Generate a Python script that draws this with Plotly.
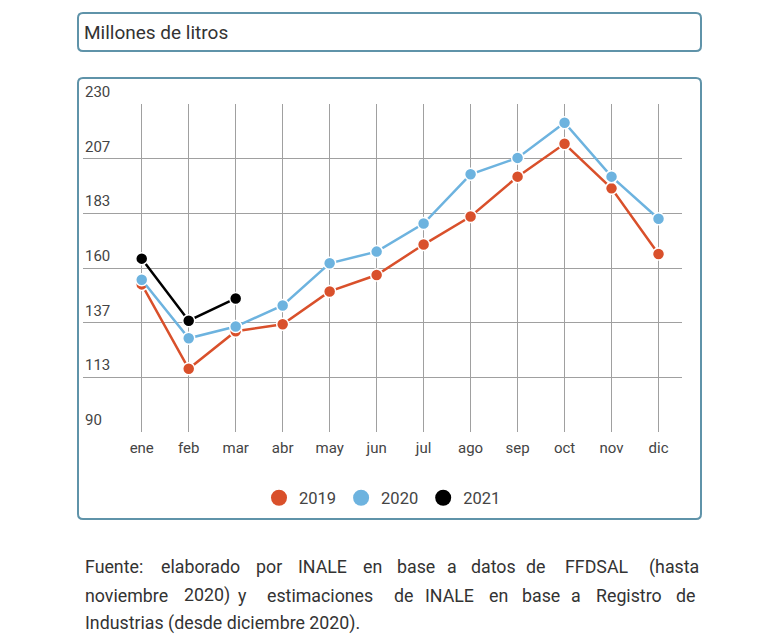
import plotly.graph_objects as go

months = ["ene", "feb", "mar", "abr", "may", "jun", "jul", "ago", "sep", "oct", "nov", "dic"]
v2019 = [153, 117, 133, 136, 150, 157, 170, 182, 199, 213, 194, 166]
v2020 = [155, 130, 135, 144, 162, 167, 179, 200, 207, 222, 199, 181]
v2021 = [164, 137.5, 147]
series_names = ["2019", "2020", "2021"]
series_colors = ["#d9502b", "#6db3df", "#000000"]
ytick_vals = [90, 113.333, 136.667, 160, 183.333, 206.667, 230]
ytick_text = ["90", "113", "137", "160", "183", "207", "230"]
title_text = "Millones de litros"
footer_line1 = ["Fuente:", "elaborado", "por", "INALE", "en", "base", "a", "datos", "de", "FFDSAL", "(hasta"]
footer_line2 = ["noviembre", "2020)", "y", "estimaciones", "de", "INALE", "en", "base", "a", "Registro", "de"]
footer_line3 = "Industrias (desde diciembre 2020)."

# layout geometry (pixels in the screenshot; page body adds an 8px offset)
OFF = 8
W, H = 782, 641
L, R, T, B = 83, 682, 104, 432
PW, PH = R - L, B - T


def px(x):
    return (x - L) / PW


def py(y):
    return (B - y) / PH


def rrect(x0, y0, x1, y1, r=5):
    rx, ry = r / PW, r / PH
    X0, X1 = px(x0), px(x1)
    Y0, Y1 = py(y0), py(y1)
    return (f"M {X0+rx},{Y0} L {X1-rx},{Y0} Q {X1},{Y0} {X1},{Y0-ry} "
            f"L {X1},{Y1+ry} Q {X1},{Y1} {X1-rx},{Y1} L {X0+rx},{Y1} "
            f"Q {X0},{Y1} {X0},{Y1+ry} L {X0},{Y0-ry} Q {X0},{Y0} {X0+rx},{Y0} Z")


fig = go.Figure()
xs = list(range(len(months)))
data = [v2019, v2020, v2021]
for name, vals, col in zip(series_names, data, series_colors):
    fig.add_trace(go.Scatter(
        x=xs[:len(vals)], y=vals, mode="lines+markers", name=name,
        line=dict(color=col, width=2.5),
        marker=dict(size=12, color=col, line=dict(color="white", width=1.5)),
        showlegend=False, hoverinfo="skip"))
for name, col in zip(series_names, series_colors):
    fig.add_trace(go.Scatter(
        x=[None], y=[None], mode="markers", name=name,
        marker=dict(size=20, color=col)))

border = "#5f93a9"
shapes = [
    dict(type="path", xref="paper", yref="paper", path=rrect(78, 13, 701, 51),
         line=dict(color=border, width=2), fillcolor="rgba(0,0,0,0)", layer="below"),
    dict(type="path", xref="paper", yref="paper", path=rrect(78, 78, 701, 519),
         line=dict(color=border, width=2), fillcolor="rgba(0,0,0,0)", layer="below"),
]

ann = [dict(text=title_text, xref="paper", yref="paper", x=px(82), y=py(32),
            xanchor="left", yanchor="middle", showarrow=False,
            font=dict(size=19, color="#333333"))]

for v, t in zip(ytick_vals, ytick_text):
    ann.append(dict(text=t, xref="paper", yref="y", x=0, y=v, xanchor="left",
                    yanchor="bottom", yshift=1, showarrow=False,
                    font=dict(size=15, color="#444444")))

line1_x = [83, 159, 254, 296, 360.5, 395, 445, 469, 524, 562.5, 646.5]
line2_x = [83, 181.5, 235.5, 264.5, 392, 423.5, 486.5, 519.5, 568.5, 593.5, 673.5]
for words, xpos, yc in [(footer_line1, line1_x, 566.5), (footer_line2, line2_x, 595)]:
    for w, xx in zip(words, xpos):
        ann.append(dict(text=w, xref="paper", yref="paper", x=px(xx), y=py(yc),
                        xanchor="left", yanchor="middle", showarrow=False,
                        font=dict(size=17.8, color="#333333")))
ann.append(dict(text=footer_line3, xref="paper", yref="paper", x=px(83), y=py(622.5),
                xanchor="left", yanchor="middle", showarrow=False,
                font=dict(size=17.8, color="#333333")))

fig.update_layout(
    width=W, height=H,
    margin=dict(l=L - OFF, r=W - R + OFF, t=T - OFF, b=H - B + OFF),
    paper_bgcolor="white", plot_bgcolor="white",
    font=dict(family="Roboto", color="#444444"),
    shapes=shapes, annotations=ann,
    legend=dict(orientation="h", x=0.5, xanchor="center", y=py(498), yanchor="middle",
                font=dict(size=16.5, color="#444444"), itemclick=False),
    xaxis=dict(range=[-1.25, 11.5], tickvals=xs, ticktext=months,
               showgrid=True, gridcolor="#a0a0a0", gridwidth=1, zeroline=False,
               showline=False, ticks="outside", ticklen=2, tickcolor="white",
               tickfont=dict(size=15, color="#444444")),
    yaxis=dict(range=[90, 230], tickvals=ytick_vals, showticklabels=False,
               showgrid=True, gridcolor="#a0a0a0",
               gridwidth=1, zeroline=False, showline=False),
)

fig.write_html("out.html")
